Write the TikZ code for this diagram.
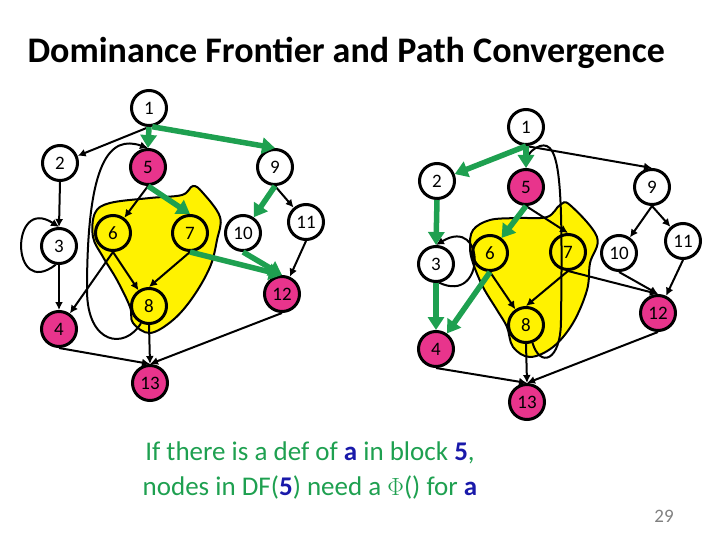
\documentclass[tikz,border=0pt]{standalone}
\usepackage{fontspec}
\setmainfont{Carlito}
\usetikzlibrary{arrows.meta,positioning}
\definecolor{dfpink}{RGB}{232,52,140}
\definecolor{dfgreen}{RGB}{30,160,80}
\definecolor{dfblue}{RGB}{25,25,170}
\tikzstyle{vtx} = [
	circle,
	draw,
	fill=white,
	line width=3pt,
	minimum size=35pt,
	inner sep=0pt,
	font=\fontsize{19}{19}\selectfont
]
\tikzstyle{dfn} = [vtx, fill=dfpink]
\tikzstyle{reg} = [vtx, fill=yellow]
\tikzstyle{cfg} = [line width=2pt, -{Latex[length=8pt,width=8pt]}]
\tikzstyle{dom} = [line width=5.5pt, draw=dfgreen, -{Triangle[length=13pt,width=16pt]}]
\tikzstyle{blob} = [fill=yellow, draw, line width=2pt]

\begin{document}
\begin{tikzpicture}[x=1pt, y=-1pt]
	\useasboundingbox (0,0) rectangle (720,540);
	\node[anchor=base west, font=\fontsize{36}{36}\selectfont\bfseries, name=title] at (24,63) {Dominance Frontier and Path Convergence};

	% region dominated by 5
	\draw[blob] plot[smooth cycle, tension=0.6] coordinates {(95,213) (110,203) (150,198) (182,195) (193,186) (203,193) (220,217) (217,240) (210,267) (193,297) (173,320) (150,333) (133,323) (130,307) (117,280) (103,257) (93,237)};
	\draw[blob] plot[smooth cycle, tension=0.6] coordinates {(473,230) (490,220) (517,218) (547,217) (560,205) (570,205) (597,237) (590,263) (587,290) (573,323) (553,347) (530,357) (513,347) (507,327) (497,310) (483,287) (473,263) (470,247)};

	% left graph
	\node[vtx, name=l1] at (149,108) {1};
	\node[vtx, name=l2] at (60,163) {2};
	\node[dfn, name=l5] at (148,167) {5};
	\node[vtx, name=l9] at (275,167) {9};
	\node[vtx, name=l3] at (59,246) {3};
	\node[reg, name=l6] at (113,233) {6};
	\node[reg, name=l7] at (190,233) {7};
	\node[vtx, name=l10] at (243,233) {10};
	\node[vtx, name=l11] at (306,222) {11};
	\node[dfn, name=l12] at (282,294) {12};
	\node[reg, name=l8] at (149,306) {8};
	\node[dfn, name=l4] at (59,329) {4};
	\node[dfn, name=l13] at (150,383) {13};

	\draw[cfg] (l1.south) -- (l2);
	\draw[cfg] (l2.south) -- (l3.north);
	\draw[cfg] (l3.-100) .. controls (10,300) and (10,195) .. (l3.north);
	\draw[cfg] (l3.south) -- (l4.north);
	\draw[cfg] (l5.south) -- (l6);
	\draw[cfg] (l6.south) -- (l4);
	\draw[cfg] (l6.south) -- (l8);
	\draw[cfg] (l7.south) -- (l8.north);
	\draw[cfg] (l9.south) -- (l11);
	\draw[cfg] (l11.south) -- (l12);
	\draw[cfg] (l8.south) -- (l13.north);
	\draw[cfg] (l4.south) -- (l13.north);
	\draw[cfg] (l12.south) -- (l13.north);
	\draw[cfg] (l8.-115) .. controls (125,350) and (87,345) .. (87,290) .. controls (87,160) and (110,135) .. (l5.north);
	\draw[dom] (l1.south) -- (l5.north);
	\draw[dom] (l1.-80) -- (l9.north);
	\draw[dom] (l5.south) -- (l7.north);
	\draw[dom] (l9.south) -- (l10);
	\draw[dom] (l7.south) -- (l12.north);
	\draw[dom] (l10.south) -- (l12.north);

	% right graph
	\node[vtx, name=r1] at (526,127) {1};
	\node[vtx, name=r2] at (437,181) {2};
	\node[dfn, name=r5] at (526,187) {5};
	\node[vtx, name=r9] at (652,187) {9};
	\node[vtx, name=r3] at (436,264) {3};
	\node[reg, name=r6] at (490,253) {6};
	\node[reg, name=r7] at (568,252) {7};
	\node[vtx, name=r10] at (619,253) {10};
	\node[vtx, name=r11] at (683,241) {11};
	\node[dfn, name=r12] at (658,313) {12};
	\node[reg, name=r8] at (526,325) {8};
	\node[dfn, name=r4] at (436,349) {4};
	\node[dfn, name=r13] at (527,402) {13};

	\draw[cfg] (r1.south) -- (r9.north);
	\draw[cfg] (r3.-80) .. controls (486,305) and (486,215) .. (r3.north);
	\draw[cfg] (r5.south) -- (r7.north);
	\draw[cfg] (r6.south) -- (r8);
	\draw[cfg] (r7.south) -- (r8.north);
	\draw[cfg] (r7.south) -- (r12.north);
	\draw[cfg] (r9.south) -- (r10);
	\draw[cfg] (r9.south) -- (r11);
	\draw[cfg] (r10.south) -- (r12.north);
	\draw[cfg] (r11.south) -- (r12);
	\draw[cfg] (r8.south) -- (r13.north);
	\draw[cfg] (r4.south) -- (r13.north);
	\draw[cfg] (r12.south) -- (r13.north);
	\draw[cfg] (r8.-70) .. controls (540,368) and (561,362) .. (561,320) .. controls (563,180) and (560,140) .. (540,146) .. controls (532,149) and (527,155) .. (r5.north);
	\draw[dom] (r1.south) -- (r2);
	\draw[dom] (r1.south) -- (r5.north);
	\draw[dom] (r2.south) -- (r3.north);
	\draw[dom] (r3.south) -- (r4.north);
	\draw[dom] (r5.south) -- (r6);
	\draw[dom] (r6.south) -- (r4);

	\node[text=dfgreen, align=center, font=\fontsize{27}{35}\selectfont, name=note] at (310,470) {If there is a def of \textcolor{dfblue}{\textbf{a}} in block \textcolor{dfblue}{\textbf{5}},\\nodes in DF(\textcolor{dfblue}{\textbf{5}}) need a $\Phi$() for \textcolor{dfblue}{\textbf{a}}};
	\node[text=gray, font=\fontsize{19}{19}\selectfont, name=pageno] at (664,516) {29};
\end{tikzpicture}
\end{document}
